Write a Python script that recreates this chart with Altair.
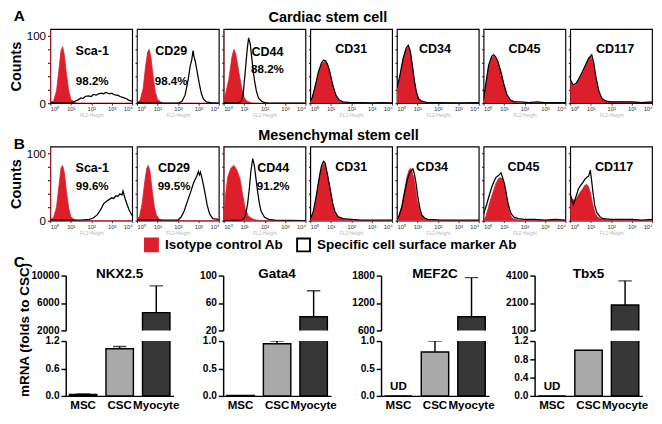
import altair as alt
import pandas as pd

FONT = "Liberation Sans"
RED = "#dc1f2b"
ISO = "Isotype control Ab"
SPEC = "Specific cell surface marker Ab"

# ---------------- Flow cytometry histograms: (log10 fluorescence, counts) ----------------
A_SCA1_ISO = [(0, 110), (0.01, 2), (0.15, 3), (0.3, 18), (0.42, 50), (0.52, 78), (0.6, 84), (0.68, 72), (0.78, 45), (0.9, 18), (1.0, 6), (1.15, 2), (1.3, 0), (4, 0)]
A_SCA1_SPEC = [(0, 1), (0.5, 0), (0.9, 0), (1.05, 1), (1.2, 3), (1.35, 5), (1.5, 8), (1.6, 7), (1.7, 10), (1.85, 11), (2.0, 10), (2.1, 13), (2.25, 12), (2.35, 14), (2.5, 15), (2.6, 14), (2.7, 16), (2.8, 15), (2.9, 14), (3.0, 15), (3.1, 13), (3.2, 12), (3.3, 12), (3.4, 10), (3.5, 9), (3.6, 8), (3.7, 7), (3.8, 5), (3.9, 4), (4.0, 3)]
A_CD29_ISO = [(0, 110), (0.01, 2), (0.15, 4), (0.3, 22), (0.42, 55), (0.52, 76), (0.6, 80), (0.68, 68), (0.78, 42), (0.9, 16), (1.0, 6), (1.15, 2), (1.3, 0), (4, 0)]
A_CD29_SPEC = [(0, 1), (0.5, 0), (2.0, 0), (2.2, 3), (2.35, 12), (2.5, 35), (2.6, 55), (2.68, 65), (2.74, 78), (2.78, 70), (2.85, 62), (2.95, 45), (3.05, 28), (3.15, 14), (3.25, 6), (3.4, 2), (3.6, 1), (4, 0)]
A_CD44_ISO = [(0, 110), (0.01, 5), (0.1, 15), (0.25, 35), (0.4, 68), (0.5, 80), (0.6, 72), (0.75, 45), (0.9, 20), (1.0, 9), (1.1, 4), (1.3, 1), (1.5, 0), (4, 0)]
A_CD44_SPEC = [(0, 1), (0.7, 0), (0.85, 3), (0.95, 12), (1.05, 45), (1.15, 80), (1.22, 97), (1.3, 88), (1.4, 60), (1.5, 35), (1.6, 18), (1.7, 8), (1.85, 3), (2.0, 1), (2.3, 0), (4, 0)]
A_CD31_ISO = [(0, 2), (0.1, 8), (0.25, 25), (0.4, 45), (0.55, 58), (0.7, 62), (0.8, 60), (0.95, 45), (1.1, 25), (1.25, 10), (1.4, 4), (1.6, 1), (2.0, 0), (4, 0)]
A_CD31_SPEC = [(0, 3), (0.1, 9), (0.25, 27), (0.4, 47), (0.55, 60), (0.65, 64), (0.75, 63), (0.85, 57), (0.95, 47), (1.1, 27), (1.25, 12), (1.4, 5), (1.6, 2), (2.0, 1), (2.5, 1), (3.0, 0.5), (3.5, 1), (4, 0.5)]
A_CD34_ISO = [(0, 20), (0.15, 40), (0.3, 65), (0.45, 80), (0.55, 83), (0.65, 75), (0.75, 55), (0.85, 32), (0.95, 15), (1.05, 6), (1.2, 2), (1.4, 0), (4, 0)]
A_CD34_SPEC = [(0, 22), (0.15, 42), (0.3, 66), (0.45, 82), (0.55, 86), (0.65, 78), (0.75, 57), (0.85, 34), (0.95, 17), (1.05, 7), (1.2, 3), (1.5, 1), (2.0, 1), (3.0, 0.5), (4, 1)]
A_CD45_ISO = [(0, 5), (0.1, 25), (0.25, 55), (0.4, 68), (0.5, 70), (0.6, 66), (0.7, 60), (0.85, 45), (1.0, 25), (1.15, 10), (1.3, 4), (1.5, 1), (1.8, 0), (4, 0)]
A_CD45_SPEC = [(0, 6), (0.1, 27), (0.25, 57), (0.4, 70), (0.5, 72), (0.6, 68), (0.7, 62), (0.85, 46), (1.0, 27), (1.15, 12), (1.3, 5), (1.5, 2), (1.8, 2), (2.2, 1), (2.6, 2), (3.0, 1), (3.5, 1), (4.0, 1)]
A_CD117_ISO = [(0, 33), (0.15, 25), (0.3, 28), (0.45, 36), (0.6, 45), (0.75, 55), (0.9, 66), (1.0, 70), (1.1, 62), (1.2, 45), (1.35, 22), (1.5, 8), (1.7, 3), (2.0, 2), (4, 1)]
A_CD117_SPEC = [(0, 35), (0.15, 27), (0.3, 30), (0.45, 38), (0.6, 47), (0.75, 57), (0.9, 67), (1.05, 72), (1.15, 60), (1.25, 40), (1.4, 18), (1.55, 7), (1.75, 3), (2.0, 2), (2.5, 2), (3.0, 2), (3.5, 1), (4, 2)]

B_SCA1_ISO = [(0, 110), (0.01, 2), (0.15, 4), (0.3, 20), (0.42, 52), (0.52, 78), (0.6, 82), (0.68, 72), (0.78, 45), (0.9, 18), (1.0, 6), (1.15, 2), (1.3, 0), (4, 0)]
B_SCA1_SPEC = [(0, 1), (1.5, 1), (1.9, 2), (2.1, 4), (2.3, 9), (2.45, 16), (2.6, 25), (2.75, 29), (2.9, 32), (3.0, 34), (3.1, 33), (3.2, 37), (3.3, 36), (3.4, 40), (3.5, 38), (3.55, 44), (3.65, 33), (3.75, 24), (3.85, 16), (3.95, 10), (4.0, 8)]
B_CD29_ISO = [(0, 110), (0.01, 3), (0.12, 6), (0.25, 25), (0.38, 58), (0.48, 78), (0.55, 82), (0.63, 74), (0.73, 48), (0.85, 20), (0.95, 8), (1.1, 2), (1.3, 0), (4, 0)]
B_CD29_SPEC = [(0, 1), (2.0, 1), (2.15, 5), (2.3, 14), (2.5, 32), (2.65, 45), (2.75, 55), (2.85, 62), (2.92, 66), (3.0, 73), (3.05, 68), (3.1, 72), (3.2, 60), (3.3, 45), (3.43, 23), (3.55, 10), (3.7, 3), (4, 2)]
B_CD44_ISO = [(0, 110), (0.01, 5), (0.1, 40), (0.2, 65), (0.35, 78), (0.5, 82), (0.65, 75), (0.8, 62), (0.92, 40), (1.05, 18), (1.2, 7), (1.4, 3), (1.6, 1), (2, 0), (4, 0)]
B_CD44_SPEC = [(0, 0), (0.9, 1), (1.0, 4), (1.08, 10), (1.17, 25), (1.25, 46), (1.33, 73), (1.42, 92), (1.5, 82), (1.58, 62), (1.67, 41), (1.75, 25), (1.83, 14), (2.0, 5), (2.2, 2), (2.5, 1), (4, 0)]
B_CD31_ISO = [(0, 2), (0.15, 12), (0.25, 28), (0.4, 55), (0.5, 73), (0.6, 82), (0.67, 85), (0.75, 80), (0.83, 71), (0.92, 56), (1.0, 41), (1.08, 26), (1.17, 14), (1.33, 5), (1.6, 2), (2, 0), (4, 0)]
B_CD31_SPEC = [(0, 2), (0.15, 14), (0.3, 38), (0.45, 66), (0.55, 82), (0.65, 88), (0.72, 86), (0.8, 74), (0.92, 55), (1.0, 42), (1.1, 25), (1.2, 14), (1.35, 6), (1.6, 3), (2.0, 2), (2.5, 1), (3, 1), (4, 1)]
B_CD34_ISO = [(0, 2), (0.1, 8), (0.24, 23), (0.35, 42), (0.5, 66), (0.6, 76), (0.67, 78), (0.75, 72), (0.84, 62), (0.92, 45), (1.0, 28), (1.1, 15), (1.18, 8), (1.3, 4), (1.45, 2), (2, 0), (4, 0)]
B_CD34_SPEC = [(0, 2), (0.1, 7), (0.24, 20), (0.35, 38), (0.5, 60), (0.6, 70), (0.7, 74), (0.78, 77), (0.85, 70), (0.93, 56), (1.02, 36), (1.12, 18), (1.22, 8), (1.35, 4), (1.5, 2), (2.2, 1), (3, 1), (4, 1)]
B_CD45_ISO = [(0, 1), (0.1, 5), (0.22, 18), (0.35, 32), (0.5, 46), (0.6, 55), (0.7, 61), (0.8, 64), (0.93, 62), (1.02, 52), (1.1, 37), (1.2, 22), (1.27, 12), (1.35, 6), (1.45, 3), (1.7, 1), (2, 0), (4, 0)]
B_CD45_SPEC = [(0, 10), (0.15, 24), (0.27, 37), (0.4, 50), (0.52, 59), (0.6, 64), (0.68, 66), (0.76, 68), (0.85, 71), (0.93, 64), (1.02, 55), (1.1, 42), (1.18, 28), (1.27, 17), (1.35, 10), (1.5, 5), (1.7, 3), (2.0, 2), (2.5, 2), (3.0, 1), (3.5, 2), (4, 1)]
B_CD117_ISO = [(0, 38), (0.08, 33), (0.2, 30), (0.3, 33), (0.4, 38), (0.5, 43), (0.6, 47), (0.7, 52), (0.8, 54), (0.9, 50), (1.0, 40), (1.07, 28), (1.15, 18), (1.23, 10), (1.35, 5), (1.5, 3), (1.8, 1), (2.2, 0), (4, 0)]
B_CD117_SPEC = [(0, 40), (0.08, 30), (0.15, 24), (0.25, 33), (0.4, 47), (0.5, 52), (0.6, 56), (0.7, 61), (0.8, 64), (0.9, 66), (0.98, 75), (1.05, 58), (1.12, 40), (1.2, 22), (1.3, 12), (1.45, 6), (1.6, 3), (2.0, 2), (2.5, 2), (3.0, 2), (3.5, 1), (4, 2)]

MARKERS = ["Sca-1", "CD29", "CD44", "CD31", "CD34", "CD45", "CD117"]
PCT_A = ["98.2%", "98.4%", "88.2%", None, None, None, None]
PCT_B = ["99.6%", "99.5%", "91.2%", None, None, None, None]

# ---------------- qPCR bars ----------------
GROUPS = ["MSC", "CSC", "Myocyte"]
GENES = ["NKX2.5", "Gata4", "MEF2C", "Tbx5"]
NKX_MEAN = [0.03, 1.03, 4600]
NKX_ERR = [0.01, 0.05, 3900]
GATA4_MEAN = [0.01, 0.95, 40]
GATA4_ERR = [0.0, 0.05, 38]
MEF2C_MEAN = [0.0, 0.80, 900]
MEF2C_ERR = [0.0, 0.20, 855]
TBX5_MEAN = [0.0, 1.00, 1950]
TBX5_ERR = [0.0, 0.0, 1765]
UD_NKX = [False, False, False]
UD_GATA4 = [False, False, False]
UD_MEF2C = [True, False, False]
UD_TBX5 = [True, False, False]
UPPER_TICKS = [[2000, 6000, 10000], [20, 60, 100], [600, 1200, 1800], [100, 2100, 4100]]
LOWER_TICKS = [[0.0, 0.6, 1.2], [0.0, 0.5, 1.0], [0.0, 0.5, 1.0], [0.0, 0.4, 0.8, 1.2]]
BAR_COLORS = ["#3a3a3a", "#a9a9a9", "#363636"]

HW, HH = 85, 77          # histogram panel size
BW, BH = 112, 57         # bar section size

LEGEND = alt.Legend(title=None, orient="none", legendX=135, legendY=216, direction="horizontal",
                    symbolType="square", symbolSize=180, symbolStrokeWidth=2, labelLimit=400,
                    labelFont=FONT, labelFontSize=14, labelFontWeight="bold", labelColor="black",
                    columnPadding=10, labelOffset=6, padding=0)
FILL_SCALE = alt.Scale(domain=[ISO, SPEC], range=[RED, "white"])
STROKE_SCALE = alt.Scale(domain=[ISO, SPEC], range=[RED, "black"])
SUP = "['\u2070','\u00b9','\u00b2','\u00b3','\u2074']"


def hist_panel(iso, spec, name, pct, first, offset, subpad, dx):
    iso_df = pd.DataFrame(iso, columns=["logv", "count"]).assign(series=ISO)
    spec_df = pd.DataFrame(spec, columns=["logv", "count"]).assign(series=SPEC)
    xaxis = alt.Axis(values=[0, 1, 2, 3, 4], labelExpr="'10' + " + SUP + "[datum.value]",
                     labelFontSize=6, labelPadding=1, labelColor="#333", tickSize=2, tickColor="#333",
                     domain=False, title="FL2-Height", titleFontSize=5, titleColor="#b8b8b8",
                     titleFontWeight="normal", titlePadding=1)
    if first:
        yaxis = alt.Axis(values=[0, 20, 40, 60, 80, 100],
                         labelExpr="datum.value == 0 || datum.value == 100 ? datum.label : ''",
                         title="Counts", titleFontSize=15, titleFontWeight="bold", titlePadding=3,
                         labelFontSize=12, labelPadding=2, tickSize=3, domain=False)
    else:
        yaxis = alt.Axis(values=[0, 20, 40, 60, 80, 100], labels=False, title=None, tickSize=2, domain=False)
    x = alt.X("logv:Q", scale=alt.Scale(domain=[0, 4], nice=False, zero=False), axis=xaxis)
    y = alt.Y("count:Q", scale=alt.Scale(domain=[0, 110], nice=False), axis=yaxis)
    area = alt.Chart(iso_df).mark_area(clip=True, opacity=1, strokeWidth=0.8).encode(
        x=x, y=y,
        fill=alt.Fill("series:N", scale=FILL_SCALE, legend=LEGEND),
        stroke=alt.Stroke("series:N", scale=STROKE_SCALE, legend=LEGEND))
    line = alt.Chart(spec_df).mark_line(clip=True, strokeWidth=1.3).encode(
        x=x, y=y, stroke=alt.Stroke("series:N", scale=STROKE_SCALE, legend=LEGEND))
    tkw = dict(text=name, anchor="middle", frame="group", offset=offset, dx=dx, font=FONT,
               fontSize=13, fontWeight="bold", color="black")
    if pct:
        tkw.update(subtitle=pct, subtitleFont=FONT, subtitleFontSize=12, subtitleFontWeight="bold",
                   subtitleColor="black", subtitlePadding=subpad)
    return alt.layer(area, line, view=alt.ViewBackground(stroke="black", strokeWidth=1.2)).properties(
        width=HW, height=HH, title=alt.TitleParams(**tkw))


def letter_chart(letter, w, h, offset):
    kw = dict(width=w, height=h)
    if letter:
        kw["title"] = alt.TitleParams(letter, anchor="start", frame="group", fontSize=16, font=FONT,
                                      fontWeight="bold", color="black", offset=offset)
    return alt.Chart(pd.DataFrame({"t": [""]})).mark_text().encode(text="t:N").properties(**kw)


A_DATA = [(A_SCA1_ISO, A_SCA1_SPEC), (A_CD29_ISO, A_CD29_SPEC), (A_CD44_ISO, A_CD44_SPEC),
          (A_CD31_ISO, A_CD31_SPEC), (A_CD34_ISO, A_CD34_SPEC), (A_CD45_ISO, A_CD45_SPEC),
          (A_CD117_ISO, A_CD117_SPEC)]
B_DATA = [(B_SCA1_ISO, B_SCA1_SPEC), (B_CD29_ISO, B_CD29_SPEC), (B_CD44_ISO, B_CD44_SPEC),
          (B_CD31_ISO, B_CD31_SPEC), (B_CD34_ISO, B_CD34_SPEC), (B_CD45_ISO, B_CD45_SPEC),
          (B_CD117_ISO, B_CD117_SPEC)]
A_LAYOUT = [(-60, 19, 1), (-60, 19, -7), (-48, 6, 3), (-28, 0, 0), (-28, 0, -3), (-28, 0, 0), (-28, 0, 4)]
B_LAYOUT = [(-47, 7, 1), (-47, 7, -4), (-47, 7, 9), (-28, 0, 0), (-28, 0, -6), (-28, 0, -1), (-28, 0, 3)]

panelsA = [hist_panel(d[0], d[1], m, p, i == 0, *A_LAYOUT[i])
           for i, (d, m, p) in enumerate(zip(A_DATA, MARKERS, PCT_A))]
panelsB = [hist_panel(d[0], d[1], m, p, i == 0, *B_LAYOUT[i])
           for i, (d, m, p) in enumerate(zip(B_DATA, MARKERS, PCT_B))]

rowA = alt.hconcat(letter_chart("A", 33, HH, 5), *panelsA, spacing=5, bounds="flush",
                   title=alt.TitleParams("Cardiac stem cell", anchor="middle", fontSize=15, font=FONT,
                                         fontWeight="bold", color="black", offset=-17, dx=-3))
rowB = alt.hconcat(letter_chart("B", 33, HH, -6), *panelsB, spacing=5, bounds="flush",
                   title=alt.TitleParams("Mesenchymal stem cell", anchor="middle", fontSize=15, font=FONT,
                                         fontWeight="bold", color="black", offset=-6, dx=8))


def bar_column(idx, mean, err, ud, up_dom, lo_dom):
    df = pd.DataFrame({"group": GROUPS, "mean": mean, "err": err, "ud": ud})
    df["top"] = df["mean"] + df["err"]
    xs = alt.Scale(domain=GROUPS, paddingInner=0.25, paddingOuter=0.1)
    col = alt.Color("group:N", scale=alt.Scale(domain=GROUPS, range=BAR_COLORS), legend=None)
    first = idx == 0

    def section(upper):
        dom = up_dom if upper else lo_dom
        ticks = UPPER_TICKS[idx] if upper else LOWER_TICKS[idx]
        ax = dict(values=ticks, format="d" if upper else ".1f", labelFontSize=10.5, labelFontWeight="bold",
                  labelPadding=2, tickSize=5, tickWidth=1.5, domainWidth=1.5, title=None)
        if first and not upper:
            ax.update(title="mRNA (folds to CSC)", titleY=-12, titleX=-36, titleFontSize=14,
                      titleFontWeight="bold")
        yax = alt.Axis(**ax)
        xax = None if upper else alt.Axis(title=None, labelAngle=0, ticks=False, domainWidth=1.5,
                                          labelFontSize=12, labelFontWeight="bold", labelPadding=4)
        x = alt.X("group:N", sort=GROUPS, scale=xs, axis=xax)
        ysc = alt.Scale(domain=dom, nice=False, zero=False)
        base = alt.Chart(df)
        bars = base.mark_bar(clip=True, stroke="black", strokeWidth=1.5).encode(
            x=x, y=alt.Y("mean:Q", scale=ysc, axis=yax), color=col)
        errs = base.transform_filter("datum.err > 0")
        rule = errs.mark_rule(clip=True, strokeWidth=1.5, color="black").encode(
            x=x, y=alt.Y("mean:Q", scale=ysc, axis=yax), y2="top:Q")
        cap = errs.mark_tick(clip=True, size=14, thickness=1.5, color="black").encode(
            x=x, y=alt.Y("top:Q", scale=ysc, axis=yax))
        layers = [bars, rule, cap]
        if not upper:
            ud_txt = base.transform_filter("datum.ud").mark_text(
                dy=-10, fontSize=12, fontWeight="bold", font=FONT, color="black").encode(
                x=x, y=alt.Y("mean:Q", scale=ysc, axis=yax), text=alt.value("UD"))
            layers.append(ud_txt)
        ch = alt.layer(*layers).properties(width=BW, height=BH)
        if upper:
            ch = ch.properties(title=alt.TitleParams(GENES[idx], anchor="middle", frame="group", fontSize=14,
                                                     font=FONT, fontWeight="bold", color="black", offset=-10))
        return ch

    return alt.vconcat(section(True), section(False), spacing=11, bounds="flush")


col1 = bar_column(0, NKX_MEAN, NKX_ERR, UD_NKX, [2000, 10000], [0, 1.2])
col2 = bar_column(1, GATA4_MEAN, GATA4_ERR, UD_GATA4, [20, 100], [0, 1.0])
col3 = bar_column(2, MEF2C_MEAN, MEF2C_ERR, UD_MEF2C, [600, 1800], [0, 1.0])
col4 = bar_column(3, TBX5_MEAN, TBX5_ERR, UD_TBX5, [100, 4100], [0, 1.2])

cols = alt.hconcat(col1, alt.hconcat(col2, alt.hconcat(col3, col4, spacing=10.5), spacing=15), spacing=20.5)
rowC = alt.hconcat(letter_chart(None, 1, 1, 0), cols, spacing=2,
                   title=alt.TitleParams("C", anchor="start", fontSize=16, font=FONT, fontWeight="bold",
                                         color="black", offset=-8))

chart = alt.vconcat(alt.vconcat(rowA, rowB, spacing=10), rowC, spacing=19).properties(
    padding={"top": -7, "left": 0, "right": 0, "bottom": 0}
).configure_view(stroke=None).configure_axis(
    labelFont=FONT, titleFont=FONT, labelColor="black", titleColor="black",
    tickColor="black", domainColor="black", grid=False
).configure_title(font=FONT, color="black")

chart.save("out.html", embed_options={"renderer": "svg", "actions": False})
